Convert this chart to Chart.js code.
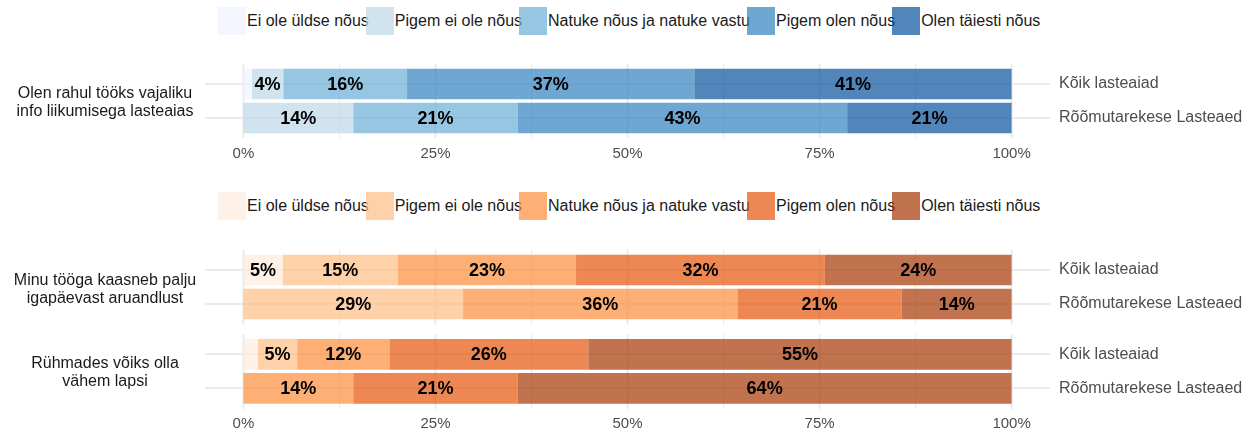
<!DOCTYPE html>
<html>
<head>
<meta charset="utf-8">
<script src="https://cdn.jsdelivr.net/npm/chart.js@4"></script>
<style>
    body { margin: 0; background: #fff; font-family: "Liberation Sans", Arial, sans-serif; }
    #wrap { position: relative; width: 1245px; height: 430px; overflow: hidden; }
    canvas { position: absolute; left: 0; }
    .legend { position: absolute; left: 218px; display: flex; align-items: center; font-size: 16px; color: #1a1a1a; white-space: nowrap; }
    .legend .key { width: 28px; height: 28px; }
    .legend .lab { margin-left: 1px; margin-right: -3px; }
    .question { position: absolute; left: 5px; width: 200px; text-align: center; font-size: 16px; line-height: 18px; color: #1a1a1a; }
</style>
</head>
<body>
<div id="wrap">
    <div class="legend" id="legendBlue" style="top:7px"></div>
    <div class="legend" id="legendOrange" style="top:192px"></div>
    <canvas id="panel1" width="1245" height="120" style="top:50px"></canvas>
    <canvas id="panel2" width="1245" height="90" style="top:240px"></canvas>
    <canvas id="panel3" width="1245" height="105" style="top:325px"></canvas>
    <div class="question" id="q1" style="top:84px"></div>
    <div class="question" id="q2" style="top:271px"></div>
    <div class="question" id="q3" style="top:354px"></div>
</div>
<script>
// answer scale and groups
const answerLevels = ['Ei ole üldse nõus', 'Pigem ei ole nõus', 'Natuke nõus ja natuke vastu', 'Pigem olen nõus', 'Olen täiesti nõus'];
const groups = ['Kõik lasteaiad', 'Rõõmutarekese Lasteaed'];
const questions = [
    ['Olen rahul tööks vajaliku', 'info liikumisega lasteaias'],
    ['Minu tööga kaasneb palju', 'igapäevast aruandlust'],
    ['Rühmades võiks olla', 'vähem lapsi']
];
const xTicks = [0, 12.5, 25, 37.5, 50, 62.5, 75, 87.5, 100];

// shares in %, one value per answer level
const q1Koik = [1.1, 4.1, 16.1, 37.4, 41.3];
const q1Room = [0, 14.3, 21.4, 42.9, 21.4];
const q2Koik = [5.1, 15.0, 23.2, 32.4, 24.3];
const q2Room = [0, 28.6, 35.7, 21.4, 14.3];
const q3Koik = [1.9, 5.1, 12.0, 25.9, 55.1];
const q3Room = [0, 0, 14.3, 21.4, 64.3];

const blues = ['rgba(239,243,255,0.7)', 'rgba(189,215,231,0.7)', 'rgba(107,174,214,0.7)', 'rgba(49,130,189,0.7)', 'rgba(8,81,156,0.7)'];
const oranges = ['rgba(254,237,222,0.7)', 'rgba(253,190,133,0.7)', 'rgba(253,141,60,0.7)', 'rgba(230,85,13,0.7)', 'rgba(166,54,3,0.7)'];

Chart.defaults.font.family = '"Liberation Sans", Arial, sans-serif';
Chart.defaults.font.size = 15;

function buildLegend(id, colors) {
    const el = document.getElementById(id);
    answerLevels.forEach((lvl, i) => {
        el.innerHTML += `<div class="key" style="background:${colors[i]}"></div><span class="lab">${lvl}</span>`;
    });
}
buildLegend('legendBlue', blues);
buildLegend('legendOrange', oranges);

['q1', 'q2', 'q3'].forEach((id, i) => {
    document.getElementById(id).innerHTML = questions[i].join('<br>');
});

// vertical grid, a bit taller than the bar area (like the ggplot panel)
const xGrid = {
    id: 'xGrid',
    beforeDatasetsDraw(chart) {
        const { ctx, chartArea, scales } = chart;
        const ext = chartArea.height / groups.length * 0.1;
        ctx.save();
        ctx.strokeStyle = '#ebebeb';
        xTicks.forEach(v => {
            const px = scales.x.getPixelForValue(v);
            ctx.lineWidth = v % 25 === 0 ? 2 : 1;
            ctx.beginPath();
            ctx.moveTo(px, chartArea.top - ext);
            ctx.lineTo(px, chartArea.bottom + ext);
            ctx.stroke();
        });
        ctx.restore();
    }
};

// percent labels in the middle of each segment
const barLabels = {
    id: 'barLabels',
    afterDatasetsDraw(chart) {
        const ctx = chart.ctx;
        ctx.save();
        ctx.font = 'bold 18px "Liberation Sans", Arial, sans-serif';
        ctx.fillStyle = '#000';
        ctx.textAlign = 'center';
        ctx.textBaseline = 'middle';
        chart.data.datasets.forEach((ds, i) => {
            chart.getDatasetMeta(i).data.forEach((bar, j) => {
                const v = ds.data[j];
                if (v < 3) return;
                ctx.fillText(Math.round(v) + '%', (bar.x + bar.base) / 2, bar.y + 1);
            });
        });
        ctx.restore();
    }
};

function makePanel(canvasId, rows, colors, showX, pad, xHeight) {
    const datasets = answerLevels.map((lvl, i) => ({
        label: lvl,
        data: rows.map(r => r[i]),
        backgroundColor: colors[i],
        borderWidth: 0,
        barPercentage: 0.9,
        categoryPercentage: 1
    }));

    new Chart(document.getElementById(canvasId), {
        type: 'bar',
        data: { labels: groups, datasets: datasets },
        plugins: [xGrid, barLabels],
        options: {
            indexAxis: 'y',
            responsive: false,
            animation: false,
            devicePixelRatio: 1,
            layout: { padding: { left: 205, right: 0, top: pad[0], bottom: pad[1] } },
            plugins: { legend: { display: false }, tooltip: { enabled: false } },
            scales: {
                x: {
                    type: 'linear',
                    stacked: true,
                    min: -5,
                    max: 105,
                    afterBuildTicks: s => { s.ticks = xTicks.map(v => ({ value: v })); },
                    afterFit: s => { s.height = xHeight; s.paddingLeft = 0; s.paddingRight = 0; },
                    border: { display: false },
                    grid: { display: false, drawTicks: false },
                    ticks: {
                        display: showX,
                        padding: 9.5,
                        color: '#4d4d4d',
                        autoSkip: false,
                        maxRotation: 0,
                        callback: v => v % 25 === 0 ? v + '%' : ''
                    }
                },
                y: {
                    type: 'category',
                    position: 'right',
                    stacked: true,
                    offset: true,
                    afterFit: s => { s.width = 195; s.paddingTop = 0; s.paddingBottom = 0; },
                    border: { display: false },
                    grid: { offset: false, drawTicks: false, color: '#ebebeb', lineWidth: 2 },
                    ticks: {
                        padding: 9,
                        color: '#4d4d4d',
                        font: { size: 16 }
                    }
                }
            }
        }
    });
}

makePanel('panel1', [q1Koik, q1Room], blues, true, [17, 0], 35);
makePanel('panel2', [q2Koik, q2Room], oranges, false, [13, 9], 0);
makePanel('panel3', [q3Koik, q3Room], oranges, true, [12.3, 0], 24.5);
</script>
</body>
</html>
